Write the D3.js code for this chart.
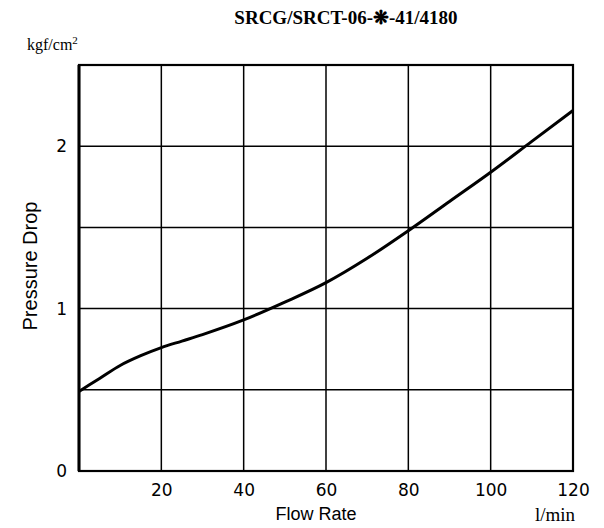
<!DOCTYPE html>
<html><head><meta charset="utf-8">
<script src="https://cdn.jsdelivr.net/npm/d3@7"></script>
<style>body{margin:0;background:#fff}</style>
</head><body>
<svg id="c" width="604" height="528"></svg>
<script>
const flow = [0, 5, 10, 15, 20, 25, 30, 40, 50, 60, 70, 80, 90, 100, 110, 120];
const pressure = [0.49, 0.57, 0.65, 0.71, 0.76, 0.80, 0.84, 0.93, 1.04, 1.16, 1.31, 1.48, 1.66, 1.84, 2.03, 2.22];
const xTicks = [20, 40, 60, 80, 100, 120];
const yTicks = [0, 1, 2];
const xGrid = [20, 40, 60, 80, 100];
const yGrid = [0.5, 1, 1.5, 2];

const svg = d3.select("#c");
const L = 79, R = 573, T = 65, B = 471;
const x = d3.scaleLinear().domain([0, 120]).range([L, R]);
const y = d3.scaleLinear().domain([0, 2.5]).range([B, T]);

// grid
svg.append("g").selectAll("line").data(xGrid).join("line")
  .attr("x1", d => x(d)).attr("x2", d => x(d)).attr("y1", T).attr("y2", B)
  .attr("stroke", "#000").attr("stroke-width", 1.5);
svg.append("g").selectAll("line").data(yGrid).join("line")
  .attr("y1", d => y(d)).attr("y2", d => y(d)).attr("x1", L).attr("x2", R)
  .attr("stroke", "#000").attr("stroke-width", 1.5);

// frame
svg.append("rect").attr("x", L).attr("y", T).attr("width", R - L).attr("height", B - T)
  .attr("fill", "none").attr("stroke", "#000").attr("stroke-width", 2.2);
svg.append("line").attr("x1", L).attr("x2", L).attr("y1", T).attr("y2", B)
  .attr("stroke", "#000").attr("stroke-width", 3);

// axes labels via d3 axes (no lines)
const xa = svg.append("g").attr("transform", `translate(0,${B})`)
  .call(d3.axisBottom(x).tickValues(xTicks).tickSize(0).tickPadding(13));
xa.select(".domain").remove();
xa.selectAll("text").attr("font-family", "DejaVu Sans, sans-serif").attr("font-size", 17).attr("fill", "#000");

const ya = svg.append("g").attr("transform", `translate(${L},0)`)
  .call(d3.axisLeft(y).tickValues(yTicks).tickFormat(d3.format("d")).tickSize(0).tickPadding(12));
ya.select(".domain").remove();
ya.selectAll("text").attr("font-family", "DejaVu Sans, sans-serif").attr("font-size", 17).attr("fill", "#000");

// curve
const line = d3.line().x((d, i) => x(flow[i])).y(d => y(d)).curve(d3.curveMonotoneX);
svg.append("path").datum(pressure).attr("d", line)
  .attr("fill", "none").attr("stroke", "#000").attr("stroke-width", 3);

// texts
svg.append("text").attr("x", 346).attr("y", 24).attr("text-anchor", "middle")
  .attr("font-family", "Liberation Serif, serif").attr("font-weight", "bold").attr("font-size", 19)
  .text("SRCG/SRCT-06-❋-41/4180");
const ku = svg.append("text").attr("x", 27).attr("y", 50)
  .attr("font-family", "Liberation Serif, serif").attr("font-size", 16);
ku.append("tspan").text("kgf/cm");
ku.append("tspan").attr("dy", -6).attr("font-size", 11).text("2");
svg.append("text").attr("transform", "translate(37,266) rotate(-90)").attr("text-anchor", "middle")
  .attr("font-family", "Liberation Sans, Arial, sans-serif").attr("font-size", 20).text("Pressure Drop");
svg.append("text").attr("x", 316).attr("y", 520).attr("text-anchor", "middle")
  .attr("font-family", "Liberation Sans, Arial, sans-serif").attr("font-size", 18).text("Flow Rate");
svg.append("text").attr("x", 555).attr("y", 521).attr("text-anchor", "middle")
  .attr("font-family", "Liberation Serif, serif").attr("font-size", 19).text("l/min");
</script>
</body></html>
